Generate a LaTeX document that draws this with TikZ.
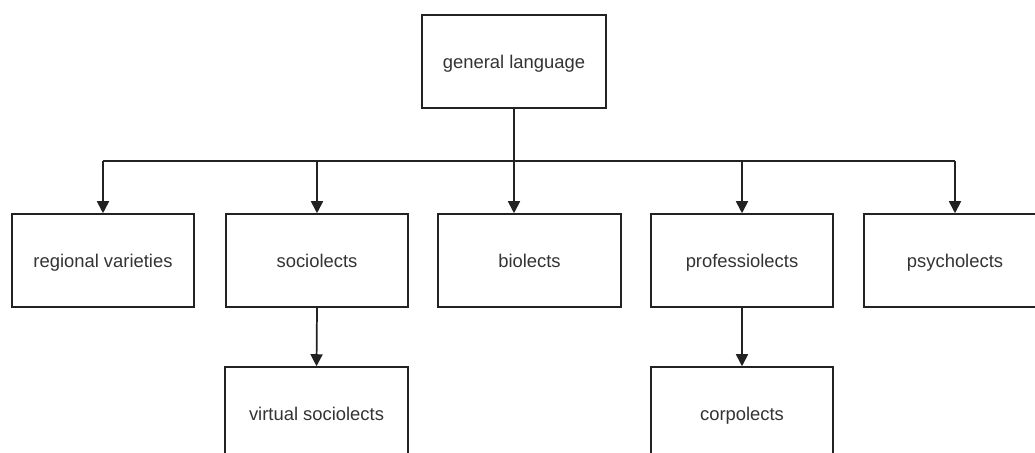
\documentclass[tikz,border=0pt]{standalone}
\usepackage{fontspec}
\setmainfont{Liberation Sans}
\usetikzlibrary{arrows.meta}
\definecolor{linec}{HTML}{222222}
\definecolor{textc}{HTML}{333333}
\begin{document}
\begin{tikzpicture}[x=0.75pt,y=-0.75pt,
  box/.style={draw=linec, line width=1.4pt, rectangle, fill=white,
    minimum width=137pt, minimum height=69.5pt, inner sep=0pt,
    text height=10pt, text depth=0pt,
    text=textc, font=\fontsize{13.8pt}{16pt}\selectfont},
  conn/.style={draw=linec, line width=1.3pt},
  arr/.style={conn, -{Triangle[length=9pt,width=9pt]}}]
\useasboundingbox (0,0) rectangle (1035,453);
\clip (0,0) rectangle (1035,453);
\fill[white] (0,0) rectangle (1035,453);
\node[box, minimum width=138pt] (gen) at (514,61.5) {general language};
\node[box] (reg) at (103,260.5) {regional varieties};
\node[box] (soc) at (317,260.5) {sociolects};
\node[box] (bio) at (529.5,260.5) {biolects};
\node[box] (pro) at (742,260.5) {professiolects};
\node[box] (psy) at (955,260.5) {psycholects};
\node[box] (vir) at (316.5,413.5) {virtual sociolects};
\node[box] (cor) at (742,413.5) {corpolects};
\coordinate (bus) at (514,161);
\draw[conn] (reg.north |- bus) -- (psy.north |- bus);
\draw[arr] (gen.south) -- (gen.south |- bio.north);
\draw[arr] (reg.north |- bus) -- (reg.north);
\draw[arr] (soc.north |- bus) -- (soc.north);
\draw[arr] (pro.north |- bus) -- (pro.north);
\draw[arr] (psy.north |- bus) -- (psy.north);
\draw[arr] (soc.south) -- (vir.north);
\draw[arr] (pro.south) -- (cor.north);
\end{tikzpicture}
\end{document}
